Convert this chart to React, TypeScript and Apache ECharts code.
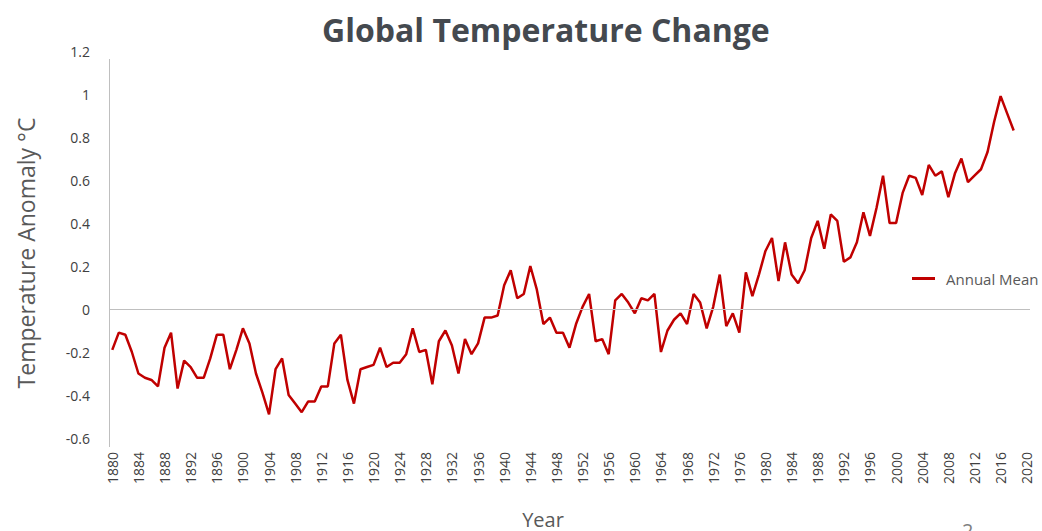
import React, { useEffect, useRef } from "react";
import * as echarts from "echarts";

const years: string[] = [];
for (let y = 1880; y <= 2020; y++) years.push(String(y));

const annualMean = [
  -0.19, -0.11, -0.12, -0.2, -0.3, -0.32, -0.33, -0.36, -0.18, -0.11,
  -0.37, -0.24, -0.27, -0.32, -0.32, -0.23, -0.12, -0.12, -0.28, -0.19,
  -0.09, -0.16, -0.3, -0.39, -0.49, -0.28, -0.23, -0.4, -0.44, -0.48,
  -0.43, -0.43, -0.36, -0.36, -0.16, -0.12, -0.33, -0.44, -0.28, -0.27,
  -0.26, -0.18, -0.27, -0.25, -0.25, -0.21, -0.09, -0.2, -0.19, -0.35,
  -0.15, -0.1, -0.17, -0.3, -0.14, -0.21, -0.16, -0.04, -0.04, -0.03,
  0.11, 0.18, 0.05, 0.07, 0.2, 0.09, -0.07, -0.04, -0.11, -0.11,
  -0.18, -0.07, 0.01, 0.07, -0.15, -0.14, -0.21, 0.04, 0.07, 0.03,
  -0.02, 0.05, 0.04, 0.07, -0.2, -0.1, -0.05, -0.02, -0.07, 0.07,
  0.03, -0.09, 0.01, 0.16, -0.08, -0.02, -0.11, 0.17, 0.06, 0.16,
  0.27, 0.33, 0.13, 0.31, 0.16, 0.12, 0.18, 0.33, 0.41, 0.28,
  0.44, 0.41, 0.22, 0.24, 0.31, 0.45, 0.34, 0.47, 0.62, 0.4,
  0.4, 0.54, 0.62, 0.61, 0.53, 0.67, 0.62, 0.64, 0.52, 0.63,
  0.7, 0.59, 0.62, 0.65, 0.73, 0.87, 0.99, 0.91, 0.83,
];

const FONT = "'Open Sans', 'Noto Sans', sans-serif";

export default function App() {
  const ref = useRef<HTMLDivElement>(null);
  useEffect(() => {
    if (!ref.current) return;
    const chart = echarts.init(ref.current, undefined, { renderer: "svg" });
    chart.setOption({
      animation: false,
      backgroundColor: "#ffffff",
      title: {
        text: "Global Temperature Change",
        left: 317,
        top: 8,
        textStyle: {
          fontFamily: FONT,
          fontSize: 32,
          fontWeight: "bold",
          color: "#44494f",
        },
      },
      legend: {
        data: ["Annual Mean"],
        left: 912,
        top: 271,
        padding: 0,
        icon: "rect",
        itemWidth: 23,
        itemHeight: 3,
        itemGap: 8,
        textStyle: { fontFamily: FONT, fontSize: 15, color: "#595959", padding: [0, 0, 0, 6] },
      },
      grid: { left: 109, right: 12, top: 51, bottom: 93 },
      xAxis: {
        type: "category",
        data: years,
        boundaryGap: true,
        axisLine: { show: false, onZero: false },
        axisTick: { show: false },
        axisLabel: {
          interval: 3,
          rotate: 90,
          margin: 14,
          fontFamily: FONT,
          fontSize: 14,
          color: "#404040",
        },
      },
      yAxis: {
        type: "value",
        min: -0.6,
        max: 1.2,
        interval: 0.2,
        axisLine: { show: false },
        axisTick: { show: false },
        splitLine: { show: false },
        axisLabel: {
          margin: 19,
          fontFamily: FONT,
          fontSize: 14,
          color: "#404040",
          formatter: (v: number) => String(Math.round(v * 10) / 10),
        },
      },
      series: [
        {
          name: "Annual Mean",
          type: "line",
          data: annualMean,
          showSymbol: false,
          symbol: "none",
          lineStyle: { color: "#c00000", width: 2.5 },
          itemStyle: { color: "#c00000" },
          markLine: {
            silent: true,
            symbol: "none",
            label: { show: false },
            lineStyle: { color: "#bfbfbf", width: 1, type: "solid" },
            data: [{ yAxis: 0 }],
          },
        },
      ],
      graphic: [
        {
          type: "line",
          shape: { x1: 109.5, y1: 59, x2: 109.5, y2: 447 },
          style: { stroke: "#bfbfbf", lineWidth: 1 },
          silent: true,
        },
        {
          type: "text",
          x: 26,
          y: 253,
          rotation: Math.PI / 2,
          style: {
            text: "Temperature Anomaly °C",
            fontFamily: FONT,
            fontSize: 23,
            fill: "#595959",
            align: "center",
            verticalAlign: "middle",
          },
        },
        {
          type: "text",
          x: 543,
          y: 519,
          style: {
            text: "Year",
            fontFamily: FONT,
            fontSize: 20,
            fill: "#595959",
            align: "center",
            verticalAlign: "middle",
          },
        },
        {
          type: "text",
          left: 962,
          top: 520,
          style: { text: "2", fontFamily: FONT, fontSize: 20, fill: "#808080" },
        },
      ],
    });
    return () => chart.dispose();
  }, []);
  return (
    <div
      ref={ref}
      style={{ position: "absolute", left: 0, top: 0, width: 1042, height: 531 }}
    />
  );
}
